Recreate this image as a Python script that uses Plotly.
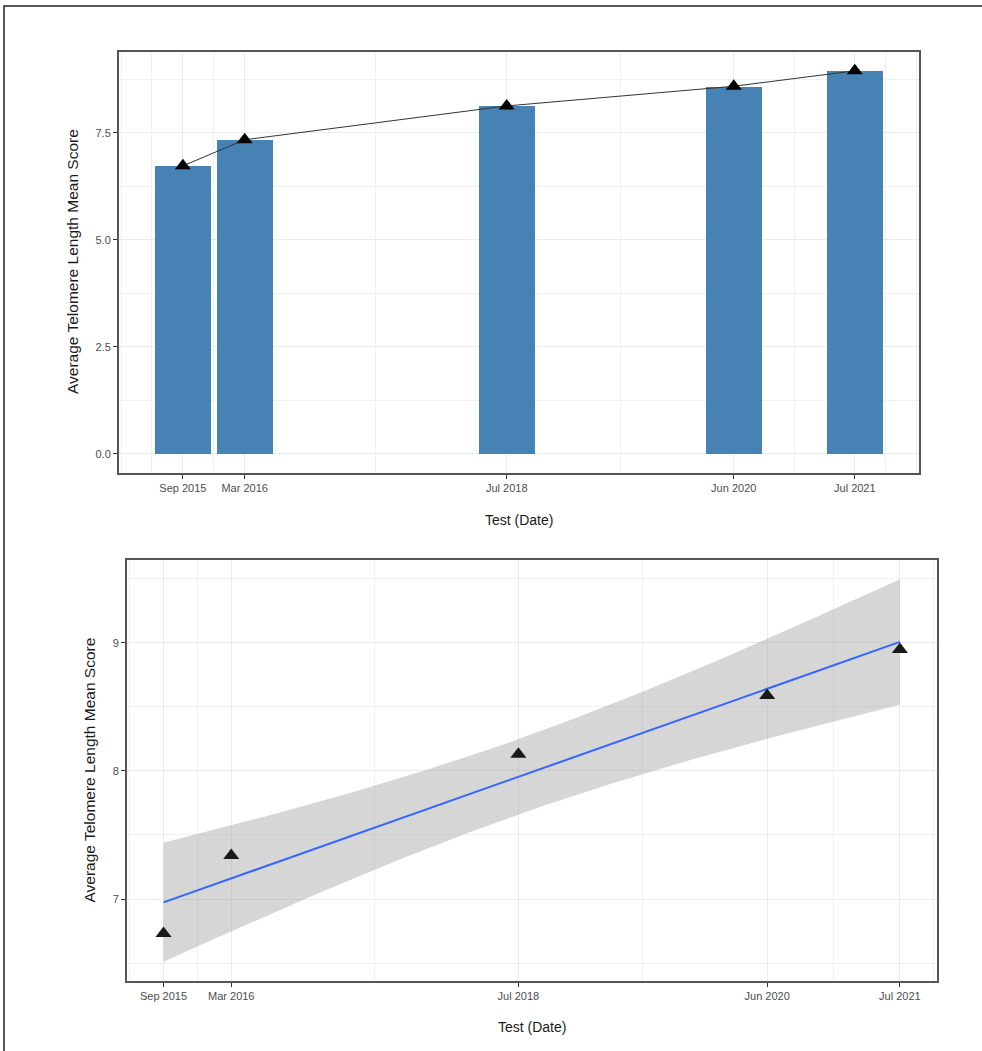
import numpy as np
import pandas as pd
import plotly.graph_objects as go

# ---- data -------------------------------------------------------------
test_dates = ["2015-09-10", "2016-03-24", "2018-07-03", "2020-06-22", "2021-07-11"]
tick_labels = ["Sep 2015", "Mar 2016", "Jul 2018", "Jun 2020", "Jul 2021"]
mean_scores = [6.73, 7.34, 8.13, 8.59, 8.95]

y_ticks_top = [0, 2.5, 5, 7.5]
y_ticklabels_top = ["0.0", "2.5", "5.0", "7.5"]
y_ticks_bottom = [7, 8, 9]
y_ticklabels_bottom = ["7", "8", "9"]

X_TITLE = "Test (Date)"
Y_TITLE = "Average Telomere Length Mean Score"

# ---- page geometry (pixels) --------------------------------------------
W, H = 982, 1051
FONT = "Liberation Sans, Arial, sans-serif"


def px_x(x):
    return x / W


def px_y(y):
    return 1 - y / H


dates = pd.to_datetime(test_dates)
t = np.array([(d - dates[0]).days for d in dates], dtype=float)
y = np.array(mean_scores, dtype=float)
res = np.min(np.diff(t))  # date resolution used for bar width
t0 = dates[0]


def to_date(days):
    return t0 + pd.to_timedelta(days, unit="D")


# ---- linear fit with 95% confidence band (lm smoother) -----------------
n = len(t)
tbar = t.mean()
sxx = np.sum((t - tbar) ** 2)
slope = np.sum((t - tbar) * (y - y.mean())) / sxx
intercept = y.mean() - slope * tbar
resid = y - (intercept + slope * t)
s = np.sqrt(np.sum(resid ** 2) / (n - 2))
T_CRIT = 3.182446  # t(0.975, df = 3)
grid = np.linspace(t.min(), t.max(), 80)
fit = intercept + slope * grid
se = s * np.sqrt(1 / n + (grid - tbar) ** 2 / sxx)
upper = fit + T_CRIT * se
lower = fit - T_CRIT * se
grid_dates = to_date(grid)

# ---- axis ranges (5% expansion) ----------------------------------------
lo_top, hi_top = t.min() - 0.45 * res, t.max() + 0.45 * res
pad = 0.05 * (hi_top - lo_top)
xr_top = [to_date(lo_top - pad), to_date(hi_top + pad)]
yr_top = [0 - 0.05 * y.max(), y.max() * 1.05]

pad_b = 0.05 * (t.max() - t.min())
xr_bot = [to_date(t.min() - pad_b), to_date(t.max() + pad_b)]
ymin_b, ymax_b = min(lower.min(), y.min()), max(upper.max(), y.max())
ypad_b = 0.05 * (ymax_b - ymin_b)
yr_bot = [ymin_b - ypad_b, ymax_b + ypad_b]

# minor grid: midpoints between breaks, extended one step past each end
bd = t[1] - t[0]
ext = np.concatenate([[t[0] - bd], t, [t[-1] + bd]])
minor_t = np.concatenate([ext, (ext[:-1] + ext[1:]) / 2])
minor_x = [to_date(v) for v in minor_t]

fig = go.Figure()

# ---- top panel: bars + connected triangles ------------------------------
fig.add_trace(go.Bar(
    x=dates, y=y, width=0.9 * res * 86400000,
    marker=dict(color="#4682B4", line=dict(width=0)),
    xaxis="x", yaxis="y", hoverinfo="skip", showlegend=False,
))
fig.add_trace(go.Scatter(
    x=dates, y=y, mode="lines+markers",
    line=dict(color="#333333", width=1),
    marker=dict(symbol="triangle-up", size=14, color="black"),
    xaxis="x", yaxis="y", hoverinfo="skip", showlegend=False,
))

# ---- bottom panel: smoother band, fit line, points ----------------------
fig.add_trace(go.Scatter(
    x=list(grid_dates) + list(grid_dates[::-1]),
    y=list(upper) + list(lower[::-1]),
    fill="toself", fillcolor="rgba(153,153,153,0.4)",
    line=dict(width=0), mode="lines",
    xaxis="x2", yaxis="y2", hoverinfo="skip", showlegend=False,
))
fig.add_trace(go.Scatter(
    x=grid_dates, y=fit, mode="lines",
    line=dict(color="#3366FF", width=2),
    xaxis="x2", yaxis="y2", hoverinfo="skip", showlegend=False,
))
fig.add_trace(go.Scatter(
    x=dates, y=y, mode="markers",
    marker=dict(symbol="triangle-up", size=14, color="#1a1a1a"),
    xaxis="x2", yaxis="y2", hoverinfo="skip", showlegend=False,
))

grid_col = "#EBEBEB"
border_col = "#555555"
tick_font = dict(family=FONT, size=11, color="#4D4D4D")


def x_axis(domain, rng, anchor):
    return dict(
        domain=domain, anchor=anchor, type="date", range=rng,
        tickmode="array", tickvals=dates, ticktext=tick_labels,
        tickfont=tick_font, ticks="outside", ticklen=4, tickwidth=1,
        tickcolor="#333333",
        showgrid=True, gridcolor=grid_col, gridwidth=1,
        minor=dict(tickmode="array", tickvals=minor_x, showgrid=True,
                   gridcolor="#F0F0F0", gridwidth=0.7, ticks=""),
        showline=True, linecolor=border_col, linewidth=1.5, mirror=True,
        zeroline=False, automargin=False, fixedrange=True,
    )


def y_axis(domain, rng, vals, text, minor_vals, anchor):
    return dict(
        domain=domain, anchor=anchor, range=rng,
        tickmode="array", tickvals=vals, ticktext=text,
        tickfont=tick_font, ticks="outside", ticklen=4, tickwidth=1,
        tickcolor="#333333",
        showgrid=True, gridcolor=grid_col, gridwidth=1,
        minor=dict(tickmode="array", tickvals=minor_vals, showgrid=True,
                   gridcolor="#F0F0F0", gridwidth=0.7, ticks=""),
        showline=True, linecolor=border_col, linewidth=1.5, mirror=True,
        zeroline=False, automargin=False, fixedrange=True,
    )


top_x = [px_x(118.7), px_x(919)]
top_y = [px_y(473), px_y(51.7)]
bot_x = [px_x(126.7), px_x(936.7)]
bot_y = [px_y(981), px_y(560)]

fig.update_layout(
    width=W, height=H,
    margin=dict(l=0, r=0, t=0, b=0),
    paper_bgcolor="white", plot_bgcolor="white",
    font=dict(family=FONT),
    bargap=0,
    xaxis=x_axis(top_x, xr_top, "y"),
    yaxis=y_axis(top_y, yr_top, y_ticks_top, y_ticklabels_top,
                 [1.25, 3.75, 6.25, 8.75], "x"),
    xaxis2=x_axis(bot_x, xr_bot, "y2"),
    yaxis2=y_axis(bot_y, yr_bot, y_ticks_bottom, y_ticklabels_bottom,
                  [6.5, 7.5, 8.5, 9.5], "x2"),
)

title_font = dict(family=FONT, size=14, color="#1a1a1a")
ytitle_font = dict(family=FONT, size=15.5, color="#1a1a1a")
annotations = [
    dict(text=X_TITLE, x=px_x(519), y=px_y(520), font=title_font),
    dict(text=X_TITLE, x=px_x(531.7), y=px_y(1027), font=title_font),
    dict(text=Y_TITLE, x=px_x(72), y=px_y(262), textangle=-90, font=ytitle_font),
    dict(text=Y_TITLE, x=px_x(89), y=px_y(770.5), textangle=-90, font=ytitle_font),
]
for a in annotations:
    a.update(xref="paper", yref="paper", showarrow=False,
             xanchor="center", yanchor="middle")
fig.update_layout(annotations=annotations)

# frame around the whole figure
fig.add_shape(type="rect", xref="paper", yref="paper",
              x0=px_x(4), x1=px_x(W + 10), y0=px_y(H + 10), y1=px_y(6),
              line=dict(color="#222222", width=1.5), fillcolor="rgba(0,0,0,0)",
              layer="above")

fig.write_html("out.html")
